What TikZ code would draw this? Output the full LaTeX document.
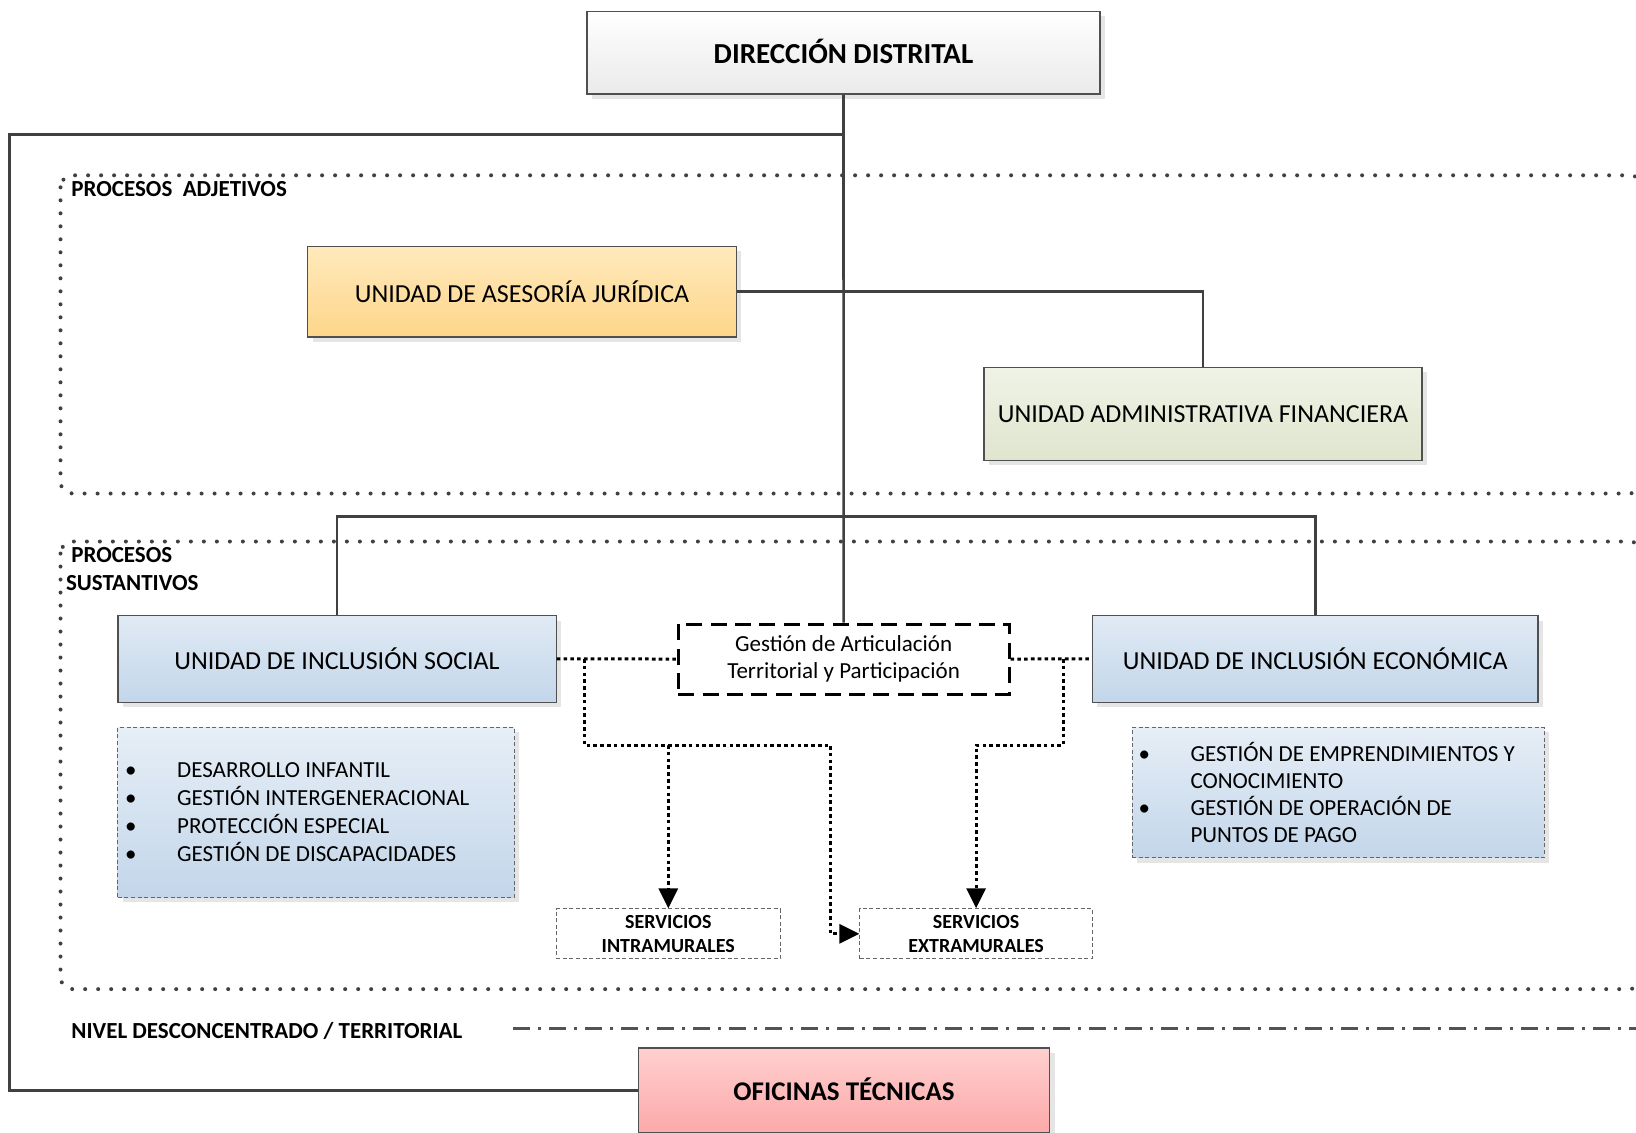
\documentclass[tikz,border=0pt]{standalone}
\usepackage{fontspec}
\setmainfont{Carlito}
\usepackage{xcolor}
\usepackage{tikz}
\usetikzlibrary{
    arrows.meta,
    positioning,
    shadows,
}

\definecolor{edge}{HTML}{505050}
\definecolor{wire}{HTML}{404040}
\definecolor{dirTop}{HTML}{FFFFFF}
\definecolor{dirBot}{HTML}{EAEAEA}
\definecolor{jurTop}{HTML}{FFE9BC}
\definecolor{jurBot}{HTML}{FDD68A}
\definecolor{admTop}{HTML}{EFF3E6}
\definecolor{admBot}{HTML}{DFE5CE}
\definecolor{incTop}{HTML}{E0EAF4}
\definecolor{incBot}{HTML}{C3D6EA}
\definecolor{ofiTop}{HTML}{FFCFCF}
\definecolor{ofiBot}{HTML}{FCA9A9}

\begin{document}
\begin{tikzpicture}[
        x=0.5pt, y=-0.5pt,
        >={Triangle[length=10pt,width=9.5pt]},
        unit/.style 2 args={
            rectangle, draw=edge, line width=0.6pt,
            top color=#1, bottom color=#2, inner sep=0pt,
            general shadow={fill=black!10, shadow xshift=2.5pt, shadow yshift=-2.5pt},
            align=center, font=\fontsize{13}{16}\selectfont
        },
        head/.style={font=\fontsize{14.5}{17}\selectfont\bfseries},
        itemlist/.style={
            rectangle, draw=gray!80!black, line width=0.5pt,
            dash pattern=on 2pt off 1.3pt,
            top color=incTop!80!white, bottom color=incBot,
            general shadow={fill=black!10, shadow xshift=2.5pt, shadow yshift=-2.5pt},
            inner ysep=0pt, align=flush left, font=\fontsize{11.5}{14}\selectfont
        },
        service/.style={
            rectangle, draw=gray!80!black, line width=0.5pt,
            dash pattern=on 2pt off 1.3pt, fill=white, inner sep=0pt,
            align=center, font=\fontsize{10}{12}\selectfont\bfseries
        },
        gestbox/.style={
            rectangle, draw=black, line width=1.5pt,
            dash pattern=on 8pt off 4.2pt, fill=white, inner sep=0pt,
            align=center, font=\fontsize{11.5}{13.5}\selectfont
        },
        wire/.style={draw=wire, line width=1.3pt},
        dots/.style={draw=black, line width=1.5pt, dash pattern=on 1.8pt off 1.6pt},
        area/.style={draw=wire, line width=2pt, line cap=round,
            dash pattern=on 0pt off 6.5pt, rounded corners=6pt},
        levelline/.style={draw=wire!90, line width=1.5pt,
            dash pattern=on 8.5pt off 4pt on 1.5pt off 4pt},
        tag/.style={font=\fontsize{11.5}{14}\selectfont\bfseries,
            inner sep=0pt, anchor=west, align=left},
    ]

    \useasboundingbox (0,0) rectangle (1636,1132);
    \clip (0,0) rectangle (1636,1132);

    % ── Process areas ──
    \draw[area] (60.5,175.3) rectangle (1642,493.5);
    \draw[area] (60.5,541.5) rectangle (1642,989.1);
    \node[tag] (adjLabel) at (71,189) {PROCESOS\ \ ADJETIVOS};
    \node[tag] (susLabel) at (65.7,569) {\hspace*{2.6pt}PROCESOS\\SUSTANTIVOS};

    % ── Top level ──
    \node[unit={dirTop}{dirBot}, head, minimum width=256.5pt, minimum height=41.3pt]
        (dir) at (843.5,52.7) {\raisebox{1.5pt}{DIRECCIÓN DISTRITAL}};

    % ── Adjetivos ──
    \node[unit={jurTop}{jurBot}, minimum width=214.4pt, minimum height=45.4pt]
        (juridica) at (522,291.6) {UNIDAD DE ASESORÍA JURÍDICA};
    \node[unit={admTop}{admBot}, minimum width=219pt, minimum height=46.4pt]
        (admin) at (1203,413.7) {UNIDAD ADMINISTRATIVA FINANCIERA};

    % ── Sustantivos ──
    \node[unit={incTop}{incBot}, minimum width=219.1pt, minimum height=43.3pt]
        (social) at (337,658.9) {UNIDAD DE INCLUSIÓN SOCIAL};
    \node[unit={incTop}{incBot}, minimum width=222.8pt, minimum height=43.3pt]
        (economica) at (1315.2,658.9) {UNIDAD DE INCLUSIÓN ECONÓMICA};
    \node[gestbox, minimum width=165.4pt, minimum height=35pt]
        (gestion) at (843.6,659) {Gestión de Articulación\\Territorial y Participación};

    \node[itemlist, inner xsep=3.75pt, text width=190.8pt, minimum height=85pt]
        (socialList) at (316,812.3) {%
        \makebox[26pt][l]{\textbullet}DESARROLLO INFANTIL\\
        \makebox[26pt][l]{\textbullet}GESTIÓN INTERGENERACIONAL\\
        \makebox[26pt][l]{\textbullet}PROTECCIÓN ESPECIAL\\
        \makebox[26pt][l]{\textbullet}GESTIÓN DE DISCAPACIDADES};
    \node[itemlist, inner xsep=3.25pt, text width=199.5pt, minimum height=65.2pt,
        font=\fontsize{11.5}{13.6}\selectfont]
        (econList) at (1338,792.5) {%
        \makebox[26pt][l]{\textbullet}GESTIÓN DE EMPRENDIMIENTOS Y\\
        \hspace*{26pt}CONOCIMIENTO\\
        \makebox[26pt][l]{\textbullet}GESTIÓN DE OPERACIÓN DE\\
        \hspace*{26pt}PUNTOS DE PAGO};

    \node[service, minimum width=112.2pt, minimum height=25pt]
        (intra) at (668.3,933.8) {SERVICIOS\\INTRAMURALES};
    \node[service, minimum width=116.3pt, minimum height=25pt]
        (extra) at (976.1,933.8) {SERVICIOS\\EXTRAMURALES};

    % ── Territorial level ──
    \node[tag] (nivelLabel) at (71,1031) {NIVEL DESCONCENTRADO / TERRITORIAL};
    \coordinate (levelStart) at (513.4,1028.8);
    \coordinate (levelEnd) at (1640,1028.8);
    \draw[levelline] (levelStart) -- (levelEnd);

    \node[unit={ofiTop}{ofiBot}, head, minimum width=205.5pt, minimum height=42.5pt]
        (oficinas) at (844,1090.4) {\raisebox{1pt}{\fontsize{13.5}{16}\selectfont OFICINAS TÉCNICAS}};

    % ── Solid lines ──
    \coordinate (loopTop) at (843.5,134.6);
    \coordinate (loopCorner) at (9.4,134.6);
    \coordinate (bus) at (843.5,516.5);
    \draw[wire] (loopTop) -- (loopCorner) |- (oficinas.west);
    \draw[wire] (juridica.east) -| (admin.north);
    \draw[wire] (social.north) |- (bus) -| (economica.north);
    \draw[wire] (dir.south) -- (gestion.north);

    % ── Dotted links ──
    \draw[dots] (social.east) -- (gestion.west);
    \draw[dots] (gestion.east) -- (economica.west);

    \coordinate (lDrop) at (584.3,658.9);
    \coordinate (lRow) at (584.3,745);
    \coordinate (lTurn) at (830.5,745);
    \draw[dots, ->] (lDrop) -- (lRow) -| (intra.north);
    \draw[dots, ->] (intra.north |- lRow) -- (lTurn) |- (extra.west);

    \coordinate (rDrop) at (1063.2,658.9);
    \coordinate (rRow) at (1063.2,745);
    \draw[dots, ->] (rDrop) -- (rRow) -| (extra.north);

\end{tikzpicture}
\end{document}
